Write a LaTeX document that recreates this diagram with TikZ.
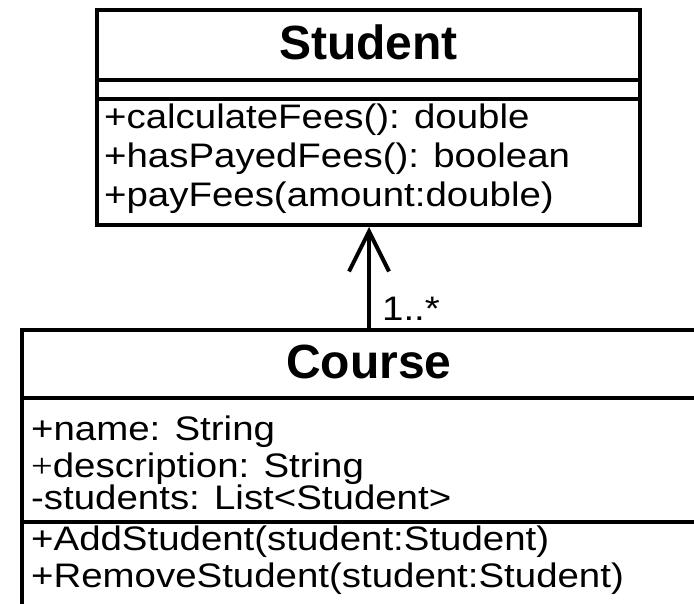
\documentclass[tikz,border=0pt]{standalone}
\usepackage{fontspec}
\setmainfont{Liberation Sans}
\newfontfamily\bodyfont[FakeStretch=1.13]{Liberation Sans}
\newfontfamily\thinplus[FakeStretch=1.13]{Liberation Serif}
\usetikzlibrary{arrows.meta}
\tikzset{
  umlbox/.style={draw=black, line width=4pt, fill=white, inner sep=0pt, rectangle},
  divider/.style={draw=black, line width=4pt},
  heading/.style={anchor=base, inner sep=0pt, font=\fontsize{48}{56}\selectfont\bfseries},
  member/.style={anchor=base west, inner sep=0pt, font=\bodyfont\fontsize{34}{40}\selectfont},
  assoc/.style={draw=black, line width=4pt, -{Straight Barb[length=40pt,width=40pt,line width=4pt]}}
}
\begin{document}
\begin{tikzpicture}[x=1pt,y=-1pt]
\useasboundingbox (0,0) rectangle (694,604);
\clip (0,0) rectangle (694,604);
\fill[white] (0,0) rectangle (694,604);
% Student class
\node[umlbox, minimum width=543pt, minimum height=215pt] (student) at (368.5,117.5) {};
\draw[divider] (student.west |- 0,80) coordinate (sd1a) -- (student.east |- 0,80) coordinate (sd1b);
\draw[divider] (student.west |- 0,99) coordinate (sd2a) -- (student.east |- 0,99) coordinate (sd2b);
\node[heading] (studentname) at (368.5,60) {Student};
\node[member] (s1) at (104,129) {+calculateFees(): double};
\node[member] (s2) at (104,168) {+hasPayedFees(): boolean};
\node[member] (s3) at (104,207) {+payFees(amount:double)};
% Course class
\node[umlbox, minimum width=694pt, minimum height=320pt] (course) at (369,490) {};
\draw[divider] (course.west |- 0,398) coordinate (cd1a) -- (course.east |- 0,398) coordinate (cd1b);
\draw[divider] (course.west |- 0,522) coordinate (cd2a) -- (course.east |- 0,522) coordinate (cd2b);
\node[heading] (coursename) at (369,378) {Course};
\node[member] (c1) at (31,440) {+name: String};
\node[member] (c2) at (31,477) {{\thinplus +}description: String};
\node[member] (c3) at (31,509) {-students: List<Student>};
\node[member] (c4) at (31,550) {+AddStudent(student:Student)};
\node[member] (c5) at (31,587) {+RemoveStudent(student:Student)};
% Association
\draw[assoc] (course.north -| 369,0) -- (student.south -| 369,0);
\node[member] (mult) at (382,320) {1..*};
\end{tikzpicture}
\end{document}
